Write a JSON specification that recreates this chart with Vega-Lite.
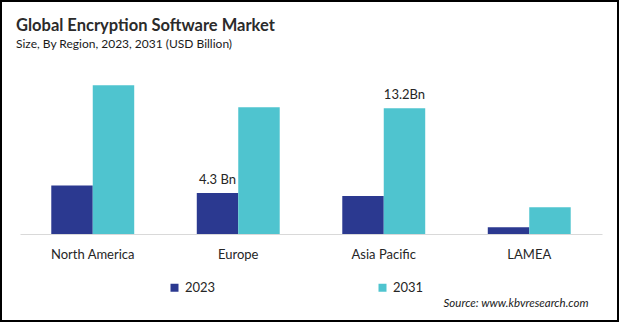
{
  "$schema": "https://vega.github.io/schema/vega-lite/v6.json",
  "width": 619,
  "height": 322,
  "autosize": "none",
  "padding": 0,
  "background": "white",
  "config": {"view": {"stroke": "#000000", "strokeWidth": 4}, "font": "Lato"},
  "title": {
    "text": "Global Encryption Software Market",
    "subtitle": "Size, By Region, 2023, 2031 (USD Billion)",
    "anchor": "start",
    "frame": "group",
    "fontSize": 16.5,
    "fontWeight": "bold",
    "color": "#2b2b2b",
    "subtitleFontSize": 12,
    "subtitleColor": "#1a1a1a",
    "subtitlePadding": 5,
    "offset": -50,
    "dx": 16
  },
  "data": {
    "values": [
      {"region": "North America", "year": "2023", "value": 5.1, "label": null},
      {"region": "North America", "year": "2031", "value": 15.6, "label": null},
      {"region": "Europe", "year": "2023", "value": 4.3, "label": "4.3 Bn"},
      {"region": "Europe", "year": "2031", "value": 13.3, "label": null},
      {"region": "Asia Pacific", "year": "2023", "value": 4.0, "label": null},
      {"region": "Asia Pacific", "year": "2031", "value": 13.2, "label": "13.2Bn"},
      {"region": "LAMEA", "year": "2023", "value": 0.7, "label": null},
      {"region": "LAMEA", "year": "2031", "value": 2.8, "label": null}
    ]
  },
  "encoding": {
    "x": {
      "field": "region",
      "type": "nominal",
      "sort": ["North America", "Europe", "Asia Pacific", "LAMEA"],
      "scale": {"range": [20, 602], "paddingInner": 0.43, "paddingOuter": 0.215},
      "axis": {
        "title": "Source: www.kbvresearch.com",
        "titleFontStyle": "italic",
        "titleFontWeight": "normal",
        "titleFontSize": 11.5,
        "titleColor": "#1a1a1a",
        "titleX": 588,
        "titleY": 72,
        "titleAlign": "right",
        "titleBaseline": "alphabetic",
        "offset": -88,
        "labelAngle": 0,
        "ticks": false,
        "labelPadding": 14,
        "labelFontSize": 13,
        "labelColor": "#262626",
        "domainColor": "#d9d9d9",
        "grid": false
      }
    },
    "xOffset": {"field": "year", "type": "nominal", "scale": {"paddingInner": 0, "paddingOuter": 0}},
    "y": {
      "field": "value",
      "type": "quantitative",
      "scale": {"domain": [0, 17], "range": [234, 72], "nice": false},
      "axis": null
    }
  },
  "layer": [
    {
      "mark": {"type": "bar"},
      "encoding": {
        "color": {
          "field": "year",
          "type": "nominal",
          "scale": {"domain": ["2023", "2031"], "range": ["#2b3990", "#4fc4cf"]},
          "legend": {
            "orient": "none",
            "legendX": 168,
            "legendY": 281,
            "direction": "horizontal",
            "title": null,
            "symbolType": "square",
            "symbolSize": 64,
            "symbolStrokeWidth": 0,
            "labelFontSize": 13,
            "labelColor": "#262626",
            "labelOffset": 4,
            "columnPadding": 160
          }
        }
      }
    },
    {
      "transform": [{"filter": "datum.label != null"}],
      "mark": {"type": "text", "baseline": "alphabetic", "dy": -9, "fontSize": 13, "color": "#262626"},
      "encoding": {"text": {"field": "label"}}
    }
  ]
}
